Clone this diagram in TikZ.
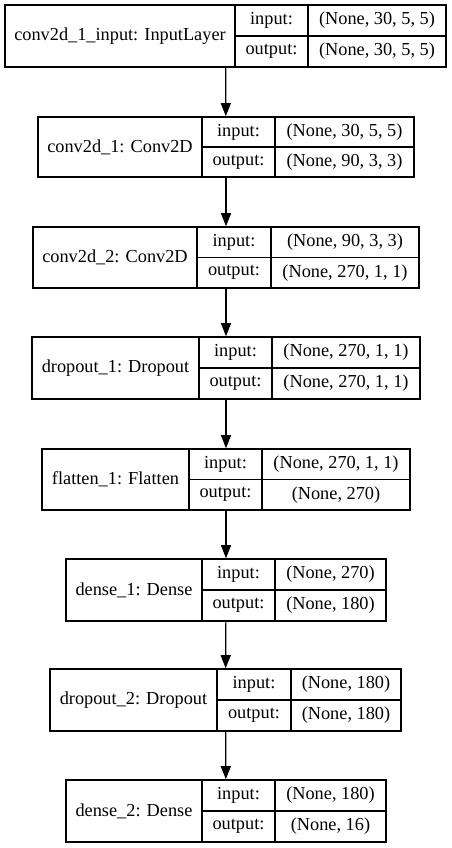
\documentclass[tikz,border=0pt]{standalone}
\usepackage{fontspec}
\setmainfont{Liberation Serif}
\usepackage{tikz}
\usetikzlibrary{arrows.meta, positioning, fit, calc}

\begin{document}
\begin{tikzpicture}[x=1pt,y=-1pt,
  font=\fontsize{18.3}{20}\selectfont,
  cell/.style={draw,line width=1.2pt,rectangle,inner sep=0pt},
  record/.style={inner sep=0pt},
  flow/.style={-{Triangle[length=13pt,width=10pt]},line width=1.2pt}]
  \useasboundingbox (0,0) rectangle (452,848);

  % ---------- conv2d_1_input ----------
  \node[cell,minimum width=230,minimum height=62] (inpname) at (120,36) {conv2d\_1\_input: InputLayer};
  \node[cell,minimum width=73,minimum height=31] (inpin) at (271.5,20.5) {input:};
  \node[cell,minimum width=73,minimum height=31] (inpout) at (271.5,51.5) {output:};
  \node[cell,minimum width=138,minimum height=31] (inpinv) at (377,20.5) {(None, 30, 5, 5)};
  \node[cell,minimum width=138,minimum height=31] (inpoutv) at (377,51.5) {(None, 30, 5, 5)};
  \node[record,fit=(inpname)(inpoutv)] (inp) {};

  % ---------- conv2d_1 ----------
  \node[cell,minimum width=164,minimum height=60] (convAname) at (120,147) {conv2d\_1: Conv2D};
  \node[cell,minimum width=73,minimum height=30] (convAin) at (238.5,132) {input:};
  \node[cell,minimum width=73,minimum height=30] (convAout) at (238.5,162) {output:};
  \node[cell,minimum width=139,minimum height=30] (convAinv) at (344.5,132) {(None, 30, 5, 5)};
  \node[cell,minimum width=139,minimum height=30] (convAoutv) at (344.5,162) {(None, 90, 3, 3)};
  \node[record,fit=(convAname)(convAoutv)] (convA) {};

  % ---------- conv2d_2 ----------
  \node[cell,minimum width=164,minimum height=61] (convBname) at (115,257.5) {conv2d\_2: Conv2D};
  \node[cell,minimum width=74,minimum height=30.5] (convBin) at (234,242.25) {input:};
  \node[cell,minimum width=74,minimum height=30.5] (convBout) at (234,272.75) {output:};
  \node[cell,minimum width=148,minimum height=30.5] (convBinv) at (345,242.25) {(None, 90, 3, 3)};
  \node[cell,minimum width=148,minimum height=30.5] (convBoutv) at (345,272.75) {(None, 270, 1, 1)};
  \node[record,fit=(convBname)(convBoutv)] (convB) {};

  % ---------- dropout_1 ----------
  \node[cell,minimum width=167,minimum height=62] (dropAname) at (115.5,368) {dropout\_1: Dropout};
  \node[cell,minimum width=73,minimum height=31] (dropAin) at (235.5,352.5) {input:};
  \node[cell,minimum width=73,minimum height=31] (dropAout) at (235.5,383.5) {output:};
  \node[cell,minimum width=148,minimum height=31] (dropAinv) at (346,352.5) {(None, 270, 1, 1)};
  \node[cell,minimum width=148,minimum height=31] (dropAoutv) at (346,383.5) {(None, 270, 1, 1)};
  \node[record,fit=(dropAname)(dropAoutv)] (dropA) {};

  % ---------- flatten_1 ----------
  \node[cell,minimum width=147,minimum height=61] (flatname) at (115.5,479.5) {flatten\_1: Flatten};
  \node[cell,minimum width=73,minimum height=30.5] (flatin) at (225.5,464.25) {input:};
  \node[cell,minimum width=73,minimum height=30.5] (flatout) at (225.5,494.75) {output:};
  \node[cell,minimum width=148,minimum height=30.5] (flatinv) at (336,464.25) {(None, 270, 1, 1)};
  \node[cell,minimum width=148,minimum height=30.5] (flatoutv) at (336,494.75) {(None, 270)};
  \node[record,fit=(flatname)(flatoutv)] (flat) {};

  % ---------- dense_1 ----------
  \node[cell,minimum width=136,minimum height=62] (denseAname) at (134,590) {dense\_1: Dense};
  \node[cell,minimum width=73,minimum height=31] (denseAin) at (238.5,574.5) {input:};
  \node[cell,minimum width=73,minimum height=31] (denseAout) at (238.5,605.5) {output:};
  \node[cell,minimum width=111,minimum height=31] (denseAinv) at (330.5,574.5) {(None, 270)};
  \node[cell,minimum width=111,minimum height=31] (denseAoutv) at (330.5,605.5) {(None, 180)};
  \node[record,fit=(denseAname)(denseAoutv)] (denseA) {};

  % ---------- dropout_2 ----------
  \node[cell,minimum width=167,minimum height=62] (dropBname) at (133.5,700) {dropout\_2: Dropout};
  \node[cell,minimum width=74,minimum height=31] (dropBin) at (254,684.5) {input:};
  \node[cell,minimum width=74,minimum height=31] (dropBout) at (254,715.5) {output:};
  \node[cell,minimum width=110,minimum height=31] (dropBinv) at (346,684.5) {(None, 180)};
  \node[cell,minimum width=110,minimum height=31] (dropBoutv) at (346,715.5) {(None, 180)};
  \node[record,fit=(dropBname)(dropBoutv)] (dropB) {};

  % ---------- dense_2 ----------
  \node[cell,minimum width=136,minimum height=62] (denseBname) at (134,811) {dense\_2: Dense};
  \node[cell,minimum width=73,minimum height=31] (denseBin) at (238.5,795.5) {input:};
  \node[cell,minimum width=73,minimum height=31] (denseBout) at (238.5,826.5) {output:};
  \node[cell,minimum width=111,minimum height=31] (denseBinv) at (330.5,795.5) {(None, 180)};
  \node[cell,minimum width=111,minimum height=31] (denseBoutv) at (330.5,826.5) {(None, 16)};
  \node[record,fit=(denseBname)(denseBoutv)] (denseB) {};

  % setas entre as camadas
  \draw[flow] (inp) -- (convA);
  \draw[flow] (convA) -- (convB);
  \draw[flow] (convB) -- (dropA);
  \draw[flow] (dropA) -- (flat);
  \draw[flow] (flat) -- (denseA);
  \draw[flow] (denseA) -- (dropB);
  \draw[flow] (dropB) -- (denseB);
\end{tikzpicture}
\end{document}
